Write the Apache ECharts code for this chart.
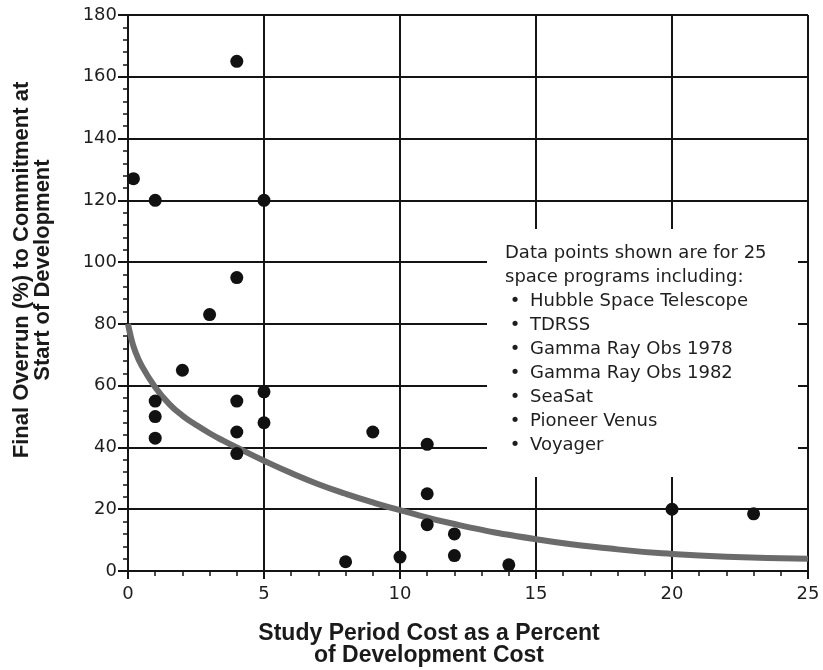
<!DOCTYPE html>
<html>
<head>
<meta charset="utf-8">
<script src="https://cdn.jsdelivr.net/npm/echarts@6/dist/echarts.min.js"></script>
<style>
  html, body { margin: 0; padding: 0; background: #fff; }
  #chart { width: 823px; height: 670px; }
</style>
</head>
<body>
<div id="chart"></div>
<script>
// Study-period spending vs. final cost overrun for space programs
var studyPct = [0.2, 1, 4, 5, 4, 3, 2, 1, 1, 1, 4, 4, 4, 5, 5, 9, 8, 10, 11, 11, 11, 12, 12, 14, 20, 23];
var overrunPct = [127, 120, 165, 120, 95, 83, 65, 55, 50, 43, 55, 45, 38, 58, 48, 45, 3, 4.5, 41, 25, 15, 12, 5, 2, 20, 18.5];

// Trend curve read along its length
var trendX = [0, 0.1, 0.25, 0.5, 1, 1.5, 2, 2.5, 3, 3.5, 4, 5, 6, 7, 8, 9, 10, 12, 15, 18, 20, 22, 25];
var trendY = [80, 76, 71.5, 66.5, 59.5, 54.2, 50.3, 47.3, 44.6, 42.2, 40, 35.7, 31.7, 28.1, 25, 22.2, 19.7, 15.2, 10.3, 7, 5.5, 4.6, 4];

var xTicks = [0, 5, 10, 15, 20, 25];
var yTicks = [0, 20, 40, 60, 80, 100, 120, 140, 160, 180];

var noteLines = ['Data points shown are for 25', 'space programs including:'];
var programs = ['Hubble Space Telescope', 'TDRSS', 'Gamma Ray Obs 1978', 'Gamma Ray Obs 1982',
                'SeaSat', 'Pioneer Venus', 'Voyager'];

var xTitle = 'Study Period Cost as a Percent\nof Development Cost';
var yTitle = 'Final Overrun (%) to Commitment at\nStart of Development';

var scatterData = studyPct.map(function (x, i) { return [x, overrunPct[i]]; });
var trendData = trendX.map(function (x, i) { return [x, trendY[i]]; });

var INK = '#141414';
var labelFont = '"DejaVu Sans", "Liberation Sans", Arial, sans-serif';
var titleFont = '"Liberation Sans", Arial, Helvetica, sans-serif';

// Note block: white panel that interrupts the grid, then its text lines
var noteTop = 253, step = 24;
var graphics = [
  { type: 'rect', z: 10, shape: { x: 487, y: 229, width: 311, height: 248 },
    style: { fill: '#ffffff' }, silent: true }
];
noteLines.forEach(function (t, i) {
  graphics.push({ type: 'text', z: 11, x: 505, y: noteTop + i * step,
    style: { text: t, fill: '#1e1e1e', font: '18px ' + labelFont,
             textAlign: 'left', textVerticalAlign: 'middle' } });
});
programs.forEach(function (t, i) {
  var y = noteTop + (i + noteLines.length) * step;
  graphics.push({ type: 'text', z: 11, x: 515, y: y,
    style: { text: '\u2022', fill: '#1e1e1e', font: '18px ' + labelFont,
             textAlign: 'center', textVerticalAlign: 'middle' } });
  graphics.push({ type: 'text', z: 11, x: 530, y: y,
    style: { text: t, fill: '#1e1e1e', font: '18px ' + labelFont,
             textAlign: 'left', textVerticalAlign: 'middle' } });
});
// Axis titles
graphics.push({ type: 'text', z: 11, x: 429, y: 645,
  style: { text: xTitle, fill: '#1a1a1a', font: 'bold 23px ' + titleFont,
           textAlign: 'center', textVerticalAlign: 'middle', lineHeight: 22 } });
graphics.push({ type: 'text', z: 11, x: 32, y: 270, rotation: Math.PI / 2,
  style: { text: yTitle, fill: '#1a1a1a', font: 'bold 22px ' + titleFont,
           textAlign: 'center', textVerticalAlign: 'middle', lineHeight: 21 } });

var chart = echarts.init(document.getElementById('chart'), null, { renderer: 'canvas' });
chart.setOption({
  backgroundColor: '#ffffff',
  animation: false,
  grid: { left: 128, right: 15, top: 15, bottom: 99, containLabel: false },
  xAxis: {
    type: 'value',
    min: xTicks[0], max: xTicks[xTicks.length - 1], interval: 5,
    axisLine: { show: true, lineStyle: { color: INK, width: 2 } },
    axisTick: { show: true, length: 8, lineStyle: { color: INK, width: 2 } },
    minorTick: { show: true, splitNumber: 5, length: 5, lineStyle: { color: INK, width: 1.5 } },
    splitLine: { show: true, lineStyle: { color: INK, width: 2 } },
    axisLabel: { color: '#1e1e1e', fontSize: 18, fontFamily: labelFont, margin: 14 }
  },
  yAxis: {
    type: 'value',
    min: yTicks[0], max: yTicks[yTicks.length - 1], interval: 20,
    axisLine: { show: true, lineStyle: { color: INK, width: 2 } },
    axisTick: { show: true, length: 10, lineStyle: { color: INK, width: 2 } },
    minorTick: { show: true, splitNumber: 5, length: 5, lineStyle: { color: INK, width: 1.5 } },
    splitLine: { show: true, lineStyle: { color: INK, width: 2 } },
    axisLabel: { color: '#1e1e1e', fontSize: 18, fontFamily: labelFont, margin: 11 }
  },
  series: [
    {
      type: 'line', data: trendData, smooth: 0.5, symbol: 'none', z: 3,
      lineStyle: { color: '#6b6b6b', width: 6 }
    },
    {
      type: 'scatter', data: scatterData, symbol: 'circle', symbolSize: 13, z: 4,
      itemStyle: { color: '#111111', opacity: 1 }
    }
  ],
  graphic: graphics
});
</script>
</body>
</html>
